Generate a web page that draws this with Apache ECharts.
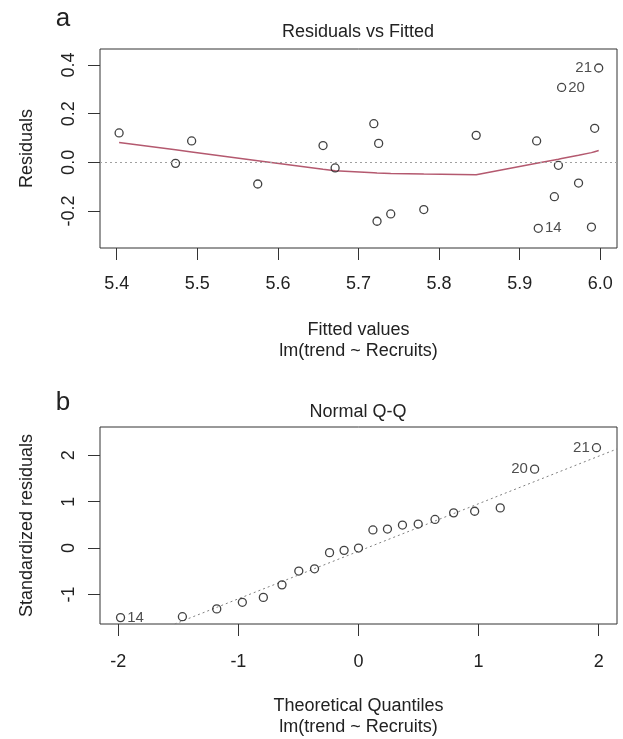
<!DOCTYPE html>
<html>
<head>
<meta charset="utf-8">
<script src="https://cdn.jsdelivr.net/npm/echarts@6/dist/echarts.min.js"></script>
<style>
html,body{margin:0;padding:0;background:#fff;}
#chart{width:623px;height:739px;}
</style>
</head>
<body>
<div id="chart"></div>
<script>
// ---- Panel a: Residuals vs Fitted ----
const fitted = [5.403, 5.473, 5.493, 5.575, 5.656, 5.671, 5.719, 5.723, 5.725, 5.740, 5.781, 5.846, 5.921, 5.923, 5.943, 5.948, 5.952, 5.973, 5.989, 5.993, 5.998];
const residuals = [0.121, -0.004, 0.088, -0.089, 0.069, -0.023, 0.159, -0.242, 0.078, -0.212, -0.194, 0.111, 0.088, -0.271, -0.141, -0.012, 0.308, -0.085, -0.266, 0.140, 0.388];
const idsTop = ['', '', '', '', '', '', '', '', '', '', '', '', '', '14', '', '', '20', '', '', '', '21'];
const labelSideTop = {'14': 'right', '20': 'right', '21': 'left'};
const smoothX = [5.403, 5.473, 5.493, 5.575, 5.656, 5.671, 5.719, 5.723, 5.725, 5.740, 5.781, 5.846, 5.921, 5.923, 5.943, 5.948, 5.952, 5.973, 5.989, 5.993, 5.998];
const smoothY = [0.082, 0.052, 0.043, 0.007, -0.028, -0.034, -0.043, -0.044, -0.044, -0.046, -0.048, -0.051, -0.004, -0.003, 0.010, 0.013, 0.016, 0.029, 0.040, 0.044, 0.049];
const xTicksTop = [5.4, 5.5, 5.6, 5.7, 5.8, 5.9, 6.0];
const yTicksTop = [-0.2, 0.0, 0.2, 0.4];

// ---- Panel b: Normal Q-Q ----
const theoretical = [-1.981, -1.466, -1.180, -0.967, -0.792, -0.637, -0.497, -0.366, -0.241, -0.120, 0.0, 0.120, 0.241, 0.366, 0.497, 0.637, 0.792, 0.967, 1.180, 1.466, 1.981];
const stdResid = [-1.50, -1.48, -1.312, -1.170, -1.064, -0.794, -0.496, -0.447, -0.099, -0.050, 0.0, 0.390, 0.410, 0.496, 0.517, 0.617, 0.759, 0.794, 0.866, 1.702, 2.164];
const idsBottom = ['14', '', '', '', '', '', '', '', '', '', '', '', '', '', '', '', '', '', '', '20', '21'];
const labelSideBottom = {'14': 'right', '20': 'left', '21': 'left'};
const qqLineX = [-1.53, 2.152];
const qqLineY = [-1.638, 2.138];
const xTicksBottom = [-2, -1, 0, 1, 2];
const yTicksBottom = [-1, 0, 1, 2];

const FONT = '"Liberation Sans", Arial, sans-serif';
const TXT = '#222';

function pts(xs, ys, ids, sides) {
  return xs.map((x, i) => {
    const item = {value: [x, ys[i]]};
    if (ids[i]) {
      item.name = ids[i];
      item.label = {show: true, formatter: ids[i], position: sides[ids[i]], distance: 2,
        color: TXT, fontSize: 15, fontFamily: FONT};
    }
    return item;
  });
}

function xAxisCfg(grid, min, max, ticks, name, fmt, margin) {
  return {
    type: 'value', gridIndex: grid, min: min, max: max, position: 'bottom',
    splitLine: {show: false},
    axisLine: {show: false, onZero: false},
    axisTick: {show: true, length: 12, inside: false, customValues: ticks, lineStyle: {color: '#333', width: 1}},
    axisLabel: {show: true, customValues: ticks, margin: margin, color: TXT, fontSize: 18, fontFamily: FONT, formatter: fmt},
    name: name, nameLocation: 'middle', nameGap: 72,
    nameTextStyle: {color: TXT, fontSize: 18, fontFamily: FONT, lineHeight: 21, verticalAlign: 'top'}
  };
}
function yAxisCfg(grid, min, max, ticks, name, fmt) {
  return {
    type: 'value', gridIndex: grid, min: min, max: max, position: 'left',
    splitLine: {show: false},
    axisLine: {show: false, onZero: false},
    axisTick: {show: true, length: 12, inside: false, customValues: ticks, lineStyle: {color: '#333', width: 1}},
    axisLabel: {show: true, customValues: ticks, rotate: 90, margin: 22, align: 'center', verticalAlign: 'bottom',
      color: TXT, fontSize: 18, fontFamily: FONT, formatter: fmt},
    name: name, nameLocation: 'middle', nameGap: 64, nameRotate: 90,
    nameTextStyle: {color: TXT, fontSize: 18, fontFamily: FONT}
  };
}

const chart = echarts.init(document.getElementById('chart'), null, {renderer: 'canvas'});
chart.setOption({
  backgroundColor: '#fff',
  animation: false,
  grid: [
    {left: 100, top: 49, width: 517, height: 199, show: true, borderColor: '#333', borderWidth: 1, backgroundColor: 'transparent'},
    {left: 100, top: 427, width: 517, height: 200, show: true, borderColor: '#333', borderWidth: 1, backgroundColor: 'transparent'}
  ],
  xAxis: [
    xAxisCfg(0, 5.3793, 6.0207, xTicksTop, 'Fitted values\nlm(trend ~ Recruits)', v => v.toFixed(1), 27),
    xAxisCfg(1, -2.152, 2.152, xTicksBottom, 'Theoretical Quantiles\nlm(trend ~ Recruits)', v => String(v), 29)
  ],
  yAxis: [
    yAxisCfg(0, -0.352, 0.466, yTicksTop, 'Residuals', v => v.toFixed(1)),
    yAxisCfg(1, -1.638, 2.611, yTicksBottom, 'Standardized residuals', v => String(v))
  ],
  graphic: [
    {type: 'text', x: 63, y: 19, style: {text: 'a', font: '26px ' + FONT, fill: TXT, align: 'center', verticalAlign: 'middle'}},
    {type: 'text', x: 358, y: 32, style: {text: 'Residuals vs Fitted', font: '18px ' + FONT, fill: TXT, align: 'center', verticalAlign: 'middle'}},
    {type: 'text', x: 63, y: 403, style: {text: 'b', font: '26px ' + FONT, fill: TXT, align: 'center', verticalAlign: 'middle'}},
    {type: 'text', x: 358, y: 412, style: {text: 'Normal Q-Q', font: '18px ' + FONT, fill: TXT, align: 'center', verticalAlign: 'middle'}}
  ],
  series: [
    {
      type: 'line', xAxisIndex: 0, yAxisIndex: 0, z: 2,
      data: smoothX.map((x, i) => [x, smoothY[i]]),
      symbol: 'none', lineStyle: {color: '#b4596f', width: 1.5},
      markLine: {silent: true, symbol: 'none', label: {show: false},
        lineStyle: {color: '#a0a0a0', type: [2, 3], width: 1}, data: [{yAxis: 0}]}
    },
    {
      type: 'scatter', xAxisIndex: 0, yAxisIndex: 0, z: 3,
      data: pts(fitted, residuals, idsTop, labelSideTop),
      symbol: 'circle', symbolSize: 8,
      itemStyle: {color: 'rgba(255,255,255,0)', borderColor: '#111', borderWidth: 1.3}
    },
    {
      type: 'line', xAxisIndex: 1, yAxisIndex: 1, z: 2,
      data: qqLineX.map((x, i) => [x, qqLineY[i]]),
      symbol: 'none', lineStyle: {color: '#808080', type: [2, 3], width: 1}
    },
    {
      type: 'scatter', xAxisIndex: 1, yAxisIndex: 1, z: 3,
      data: pts(theoretical, stdResid, idsBottom, labelSideBottom),
      symbol: 'circle', symbolSize: 8,
      itemStyle: {color: 'rgba(255,255,255,0)', borderColor: '#111', borderWidth: 1.3}
    }
  ]
});
</script>
</body>
</html>
